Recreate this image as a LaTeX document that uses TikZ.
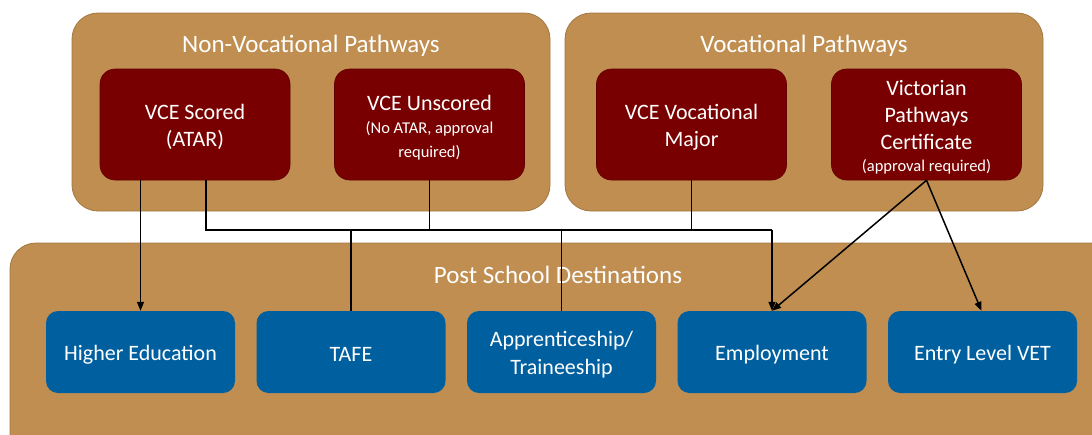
\documentclass[tikz,border=0pt]{standalone}
\usepackage{fontspec}
\setmainfont{Carlito}
\usetikzlibrary{arrows.meta}
\definecolor{tan}{RGB}{191,142,80}
\definecolor{tanedge}{RGB}{160,120,65}
\definecolor{dred}{RGB}{121,0,0}
\definecolor{dblue}{RGB}{0,95,159}
\tikzset{
  group/.style={draw=tanedge, line width=0.8pt, fill=tan, rounded corners=26pt},
  redbox/.style={draw=dred!80!black, line width=0.6pt, fill=dred, rounded corners=15pt,
    minimum width=190pt, minimum height=111pt, inner sep=0pt},
  bluebox/.style={fill=dblue, rounded corners=12pt,
    minimum width=189pt, minimum height=82pt, inner sep=0pt},
  redtext/.style={text=white, align=center, inner sep=0pt, font=\fontsize{22}{27}\selectfont},
  bluetext/.style={text=white, align=center, inner sep=0pt, font=\fontsize{22}{28}\selectfont},
  grouptitle/.style={text=white, font=\fontsize{25}{30}\selectfont, inner sep=0pt},
  conn/.style={line width=1.5pt, black},
  arr/.style={conn, -{Triangle[length=9pt,width=7pt]}}
}
\newcommand{\smalltxt}{\fontsize{16.5}{20}\selectfont}
\begin{document}
\begin{tikzpicture}[x=1pt,y=-1pt]
\useasboundingbox (0,0) rectangle (1092,434);
\clip (0,0) rectangle (1092,434);
% groups
\draw[group] (72,13) rectangle (550,211);
\draw[group] (565,13) rectangle (1043,211);
\draw[group] (10,243) rectangle (1120,460);
\node[grouptitle] (t1) at (311,46) {Non-Vocational Pathways};
\node[grouptitle] (t2) at (804,46) {Vocational Pathways};
\node[grouptitle] (t3) at (558,275) {Post School Destinations};
% red boxes
\node[redbox] (scored) at (195,124.5) {};
\node[redbox] (unscored) at (429.5,124.5) {};
\node[redbox] (vm) at (691.5,124.5) {};
\node[redbox] (vpc) at (926.5,124.5) {};
\node[redtext] (scoredT) at ([yshift=-2.5pt]scored.center) {VCE Scored\\(ATAR)};
\node[redtext] (unscoredT) at ([yshift=-3pt]unscored.center) {VCE Unscored\\[-4pt]{\smalltxt (No ATAR, approval}\\[-3pt]{\smalltxt required)}};
\node[redtext] (vmT) at ([yshift=-2.5pt]vm.center) {VCE Vocational\\Major};
\node[redtext] (vpcT) at ([yshift=-3pt]vpc.center) {Victorian\\Pathways\\Certificate\\[-5pt]{\smalltxt (approval required)}};
% blue boxes
\node[bluebox] (hed) at (140.5,352) {};
\node[bluebox] (tafe) at (351,352) {};
\node[bluebox] (app) at (561.5,352) {};
\node[bluebox] (emp) at (772,352) {};
\node[bluebox] (entry) at (982.5,352) {};
\node[bluetext] (hedT) at ([yshift=-2.5pt]hed.center) {Higher Education};
\node[bluetext] (tafeT) at ([yshift=-2.5pt]tafe.center) {TAFE};
\node[bluetext] (appT) at ([yshift=-2.5pt]app.center) {Apprenticeship/\\Traineeship};
\node[bluetext] (empT) at ([yshift=-2.5pt]emp.center) {Employment};
\node[bluetext] (entryT) at ([yshift=-2.5pt]entry.center) {Entry Level VET};
% connectors
\coordinate (busL) at (206,230);
\coordinate (busR) at (772,230);
\draw[arr] (hed.north |- scored.south) -- (hed.north);
\draw[conn] ([xshift=11pt]scored.south) -- (busL) -- (busR);
\draw[arr] (busR) -- (emp.north);
\draw[conn] (unscored.south) -- (unscored.south |- busL);
\draw[conn] (vm.south) -- (vm.south |- busL);
\draw[conn] (tafe.north |- busL) -- (tafe.north);
\draw[conn] (app.north |- busL) -- (app.north);
\draw[arr] (vpc.south) -- (emp.north);
\draw[arr] (vpc.south) -- ([xshift=-1pt]entry.north);
\end{tikzpicture}
\end{document}
